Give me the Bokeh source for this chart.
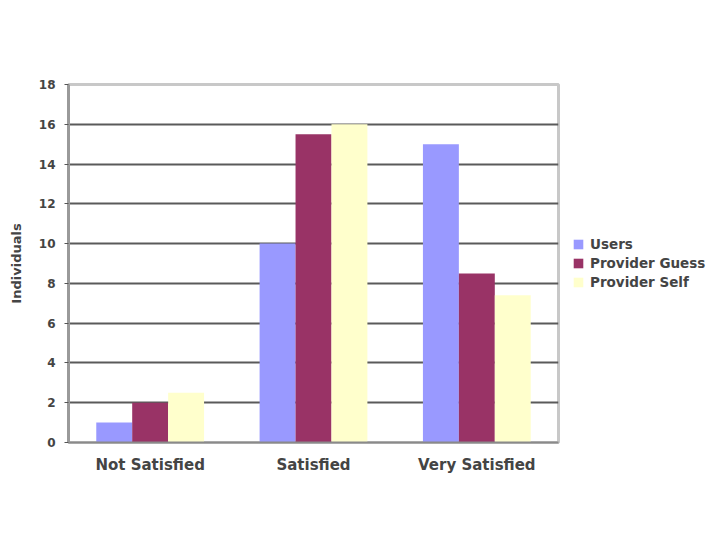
from bokeh.plotting import figure
from bokeh.layouts import row
from bokeh.models import (ColumnDataSource, Range1d, FixedTicker, Legend, LegendItem,
                          FactorRange)
from bokeh.transform import dodge
from bokeh.embed import file_html
from bokeh.resources import INLINE

categories = ["Not Satisfied", "Satisfied", "Very Satisfied"]
series_names = ["Users", "Provider Guess", "Provider Self"]
users = [1, 10, 15]
provider_guess = [2, 15.5, 8.5]
provider_self = [2.5, 16, 7.4]
y_ticks = [0, 2, 4, 6, 8, 10, 12, 14, 16, 18]
colors = ["#9999FF", "#993366", "#FFFFCC"]

source = ColumnDataSource(dict(cat=categories, users=users,
                               guess=provider_guess, selfv=provider_self))

FONT = "DejaVu Sans"
TXT = "#444444"

p = figure(x_range=categories, y_range=Range1d(0, 18),
           width=560, height=524,
           output_backend="svg", toolbar_location=None,
           min_border_left=68, min_border_right=2, min_border_top=84,
           min_border_bottom=82)
p.background_fill_color = "white"
p.border_fill_color = "white"

offs = [-0.22, 0.0, 0.22]
cols = ["users", "guess", "selfv"]
for off, col, c in zip(offs, cols, colors):
    p.vbar(x=dodge("cat", off, range=p.x_range), top=col, bottom=0,
           width=0.22, source=source, fill_color=c, line_color=None)

# y axis
p.yaxis.ticker = FixedTicker(ticks=y_ticks)
p.yaxis.axis_line_color = "#9a9a9a"
p.yaxis.axis_line_width = 3
p.yaxis.major_tick_out = 4
p.yaxis.major_tick_in = 0
p.yaxis.major_tick_line_color = "#555555"
p.yaxis.minor_tick_line_color = None
p.yaxis.major_label_standoff = 9
p.yaxis.major_label_text_font = FONT
p.yaxis.major_label_text_font_style = "bold"
p.yaxis.major_label_text_font_size = "12px"
p.yaxis.major_label_text_color = TXT
p.yaxis.axis_label = "Individuals"
p.yaxis.axis_label_standoff = 12
p.yaxis.axis_label_text_font = FONT
p.yaxis.axis_label_text_font_style = "bold"
p.yaxis.axis_label_text_font_size = "13px"
p.yaxis.axis_label_text_color = TXT

# x axis
p.xaxis.axis_line_color = "#8a8a8a"
p.xaxis.axis_line_width = 2
p.xaxis.major_tick_line_color = None
p.xaxis.major_label_standoff = 7
p.xaxis.major_label_text_font = FONT
p.xaxis.major_label_text_font_style = "bold"
p.xaxis.major_label_text_font_size = "15px"
p.xaxis.major_label_text_color = TXT

# grid
p.ygrid.ticker = FixedTicker(ticks=y_ticks[1:-1])
p.ygrid.grid_line_color = "#5a5a5a"
p.ygrid.grid_line_width = 2
p.xgrid.grid_line_color = None
p.outline_line_color = "#c8c8c8"
p.outline_line_width = 3

# legend panel (separate figure to the right of the plot); its range holds
# no category, so the proxy bars are not drawn, only their legend swatches
q = figure(x_range=FactorRange("legend"), y_range=Range1d(0, 18),
           width=160, height=524, output_backend="svg", toolbar_location=None,
           x_axis_location=None, y_axis_location=None,
           min_border_left=0, min_border_right=0, min_border_top=84,
           min_border_bottom=82)
q.grid.visible = False
q.outline_line_color = None
q.background_fill_color = "white"
q.border_fill_color = "white"
proxies = []
for col, c in zip(cols, colors):
    r = q.vbar(x="cat", top=col, bottom=0, width=0.22, source=source,
               fill_color=c, line_color=None)
    proxies.append(r)

legend = Legend(items=[LegendItem(label=n, renderers=[r]) for n, r in zip(series_names, proxies)],
                location=(12, 151), margin=0, padding=0, spacing=0,
                glyph_width=12, glyph_height=12, label_height=19, label_standoff=6,
                label_text_font=FONT, label_text_font_style="bold",
                label_text_font_size="13.5px", label_text_color=TXT,
                border_line_color=None, background_fill_alpha=0)
q.add_layout(legend)

layout = row(p, q)
open("out.html", "w").write(file_html(layout, INLINE))
